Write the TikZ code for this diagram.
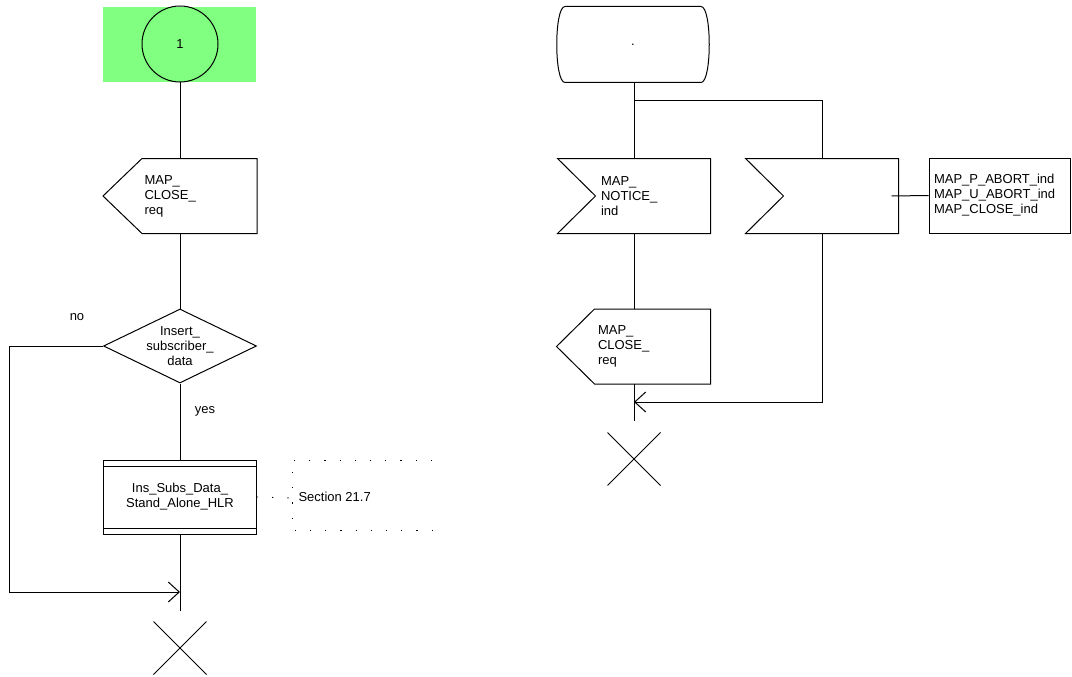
\documentclass[tikz,border=0pt]{standalone}
\usepackage{fontspec}
\setmainfont{Liberation Sans}
\usetikzlibrary{arrows.meta,positioning,shapes.geometric,shapes.misc}
\definecolor{conngreen}{RGB}{128,255,128}

\begin{document}
\begin{tikzpicture}[x=1pt,y=-1pt,>={Straight Barb[length=11pt,width=20pt]},
  line width=1pt,
  every node/.style={font=\fontsize{13}{15}\selectfont},
  sdlbox/.style={rectangle,minimum width=153pt,minimum height=74pt,inner sep=0pt},
  sdltext/.style={anchor=west,align=left,inner sep=0pt},
  cond/.style={diamond,draw,minimum width=153pt,minimum height=74pt,aspect=2,
               inner sep=0pt,align=center},
  stopx/.style={cross out,draw,minimum size=52pt,inner sep=0pt},
  cmt/.style={dash pattern=on 1.2pt off 14pt,line width=0.9pt}]
  \useasboundingbox (0,0) rectangle (1072,677);

  % left: connector 1 ... procedure
  \fill[conngreen] (103,7) rectangle (256,82);
  \node[circle,draw,minimum size=76pt,inner sep=0pt] (con) at (180,44) {1};
  \node[sdlbox] (out1) at (180,196) {};
  \draw ([xshift=39pt]out1.north west) -- (out1.north east) -- (out1.south east)
        -- ([xshift=39pt]out1.south west) -- (out1.west) -- cycle;
  \node[sdltext] (out1t) at ([xshift=41pt]out1.west) {MAP\_\\CLOSE\_\\req};
  \node[cond] (dec) at (180,346) {Insert\_\\subscriber\_\\data};
  \node (no) at (77,317) {no};
  \node (yes) at (205,411) {yes};
  \node[sdlbox,draw,align=center] (proc) at (180,497) {Ins\_Subs\_Data\_\\Stand\_Alone\_HLR};
  \draw ([yshift=-7pt]proc.north west) -- ([yshift=-7pt]proc.north east);
  \draw ([yshift=6pt]proc.south west) -- ([yshift=6pt]proc.south east);
  \coordinate (brk) at (292,498);
  \node[sdltext] (sect) at (298,497) {Section 21.7};
  \draw[cmt] (proc.east) -- (brk);
  \draw[cmt] (432,460) -- (292,460) -- (292,530) -- (443,530);
  \coordinate (join1) at (180,592);
  \coordinate (end1) at (180,611);
  \node[stopx] (stop1) at (180,648) {};
  \draw (con) -- (out1);
  \draw (out1) -- (dec);
  \draw (dec) -- (proc);
  \draw (proc) -- (end1);
  \draw[->] (dec.west) -- (9,346) |- (join1);

  % right: state ... signals
  \node[rectangle,minimum width=135pt,minimum height=75pt,inner sep=0pt] (state) at (633,44.5) {.};
  \draw (state.north west) -- (state.north east) .. controls +(11,0) and +(11,0) .. (state.south east)
        -- (state.south west) .. controls +(-11,0) and +(-11,0) .. (state.north west);
  \node[sdlbox,minimum width=152pt] (in1) at (634,196) {};
  \draw (in1.north west) -- (in1.north east) -- (in1.south east) -- (in1.south west)
        -- ([xshift=38pt]in1.west) -- cycle;
  \node[sdltext] (in1t) at ([xshift=43pt]in1.west) {MAP\_\\NOTICE\_\\ind};
  \node[sdlbox,minimum width=152pt] (in2) at (822,196) {};
  \draw (in2.north west) -- (in2.north east) -- (in2.south east) -- (in2.south west)
        -- ([xshift=38pt]in2.west) -- cycle;
  \node[rectangle,draw,minimum width=141pt,minimum height=75pt,inner sep=5pt,
        text width=131pt,align=left] (sigs) at (999.5,195.5)
       {MAP\_P\_ABORT\_ind\\MAP\_U\_ABORT\_ind\\MAP\_CLOSE\_ind};
  \node[sdlbox,minimum width=153pt] (out2) at (633.5,346.5) {};
  \draw ([xshift=38pt]out2.north west) -- (out2.north east) -- (out2.south east)
        -- ([xshift=38pt]out2.south west) -- (out2.west) -- cycle;
  \node[sdltext] (out2t) at ([xshift=41pt]out2.west) {MAP\_\\CLOSE\_\\req};
  \coordinate (br) at (634,101);
  \coordinate (join2) at (634,402);
  \coordinate (end2) at (634,421);
  \node[stopx] (stop2) at (634,459) {};
  \draw (state.south -| br) -- (in1.north -| br);
  \draw (br) -| (in2.north);
  \draw ([xshift=-7pt]in2.east) -- (sigs.west);
  \draw (in1.south -| br) -- (out2.north -| br);
  \draw (out2.south -| br) -- (end2);
  \draw[->] (in2.south) |- (join2);
\end{tikzpicture}
\end{document}
